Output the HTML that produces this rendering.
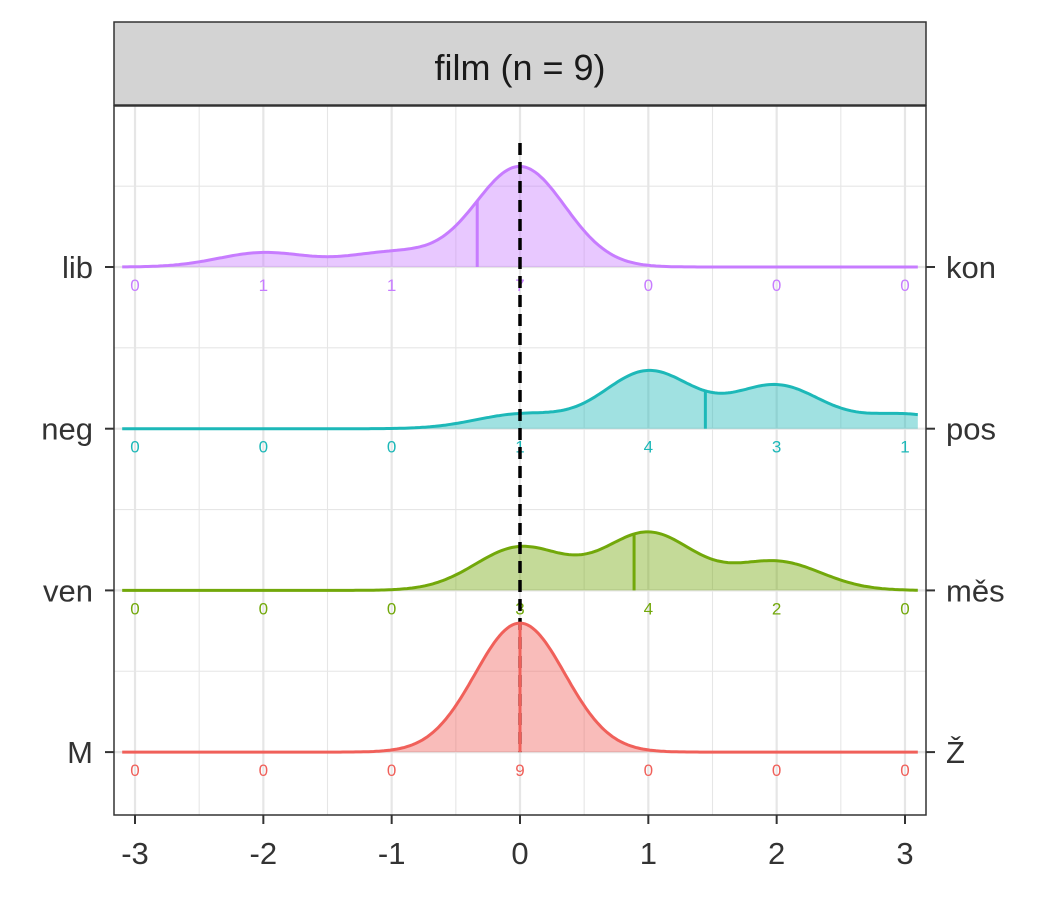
<!DOCTYPE html>
<html><head><meta charset="utf-8"><style>
html,body{margin:0;padding:0;background:#fff;}
svg text{font-family:"Liberation Sans",Arial,sans-serif;}
</style></head><body>
<svg id="chart" width="1050" height="900" xmlns="http://www.w3.org/2000/svg">
<rect x="0" y="0" width="1050" height="900" fill="#fff"/>
<g id="grid"></g>
<rect x="114" y="22" width="812" height="83" fill="#d3d3d3" stroke="#333" stroke-width="1.5"/>
<text x="520" y="80" font-size="36" text-anchor="middle" fill="#1a1a1a">film (n = 9)</text>
<g id="ridges"></g>
<rect x="114" y="106" width="812" height="709" fill="none" stroke="#333" stroke-width="1.5"/>
<g id="axes"></g>
</svg>
<script>
const xTicks = [-3,-2,-1,0,1,2,3];
const leftLabels = ["lib","neg","ven","M"];
const rightLabels = ["kon","pos","měs","Ž"];
const countsLib = [0,1,1,7,0,0,0];
const countsPos = [0,0,0,1,4,3,1];
const countsVen = [0,0,0,3,4,2,0];
const countsM = [0,0,0,9,0,0,0];
const colors = ["#C77CFF","#1DB8B8","#72A80A","#F0605A"];

const NS="http://www.w3.org/2000/svg";
const xs = v => 520 + v*128.33;
const baseY = i => 267 + i*161.7;
const sigma = 0.35, peakPx = 129;
function mk(tag, attrs, parent){const e=document.createElementNS(NS,tag);for(const k in attrs)e.setAttribute(k,attrs[k]);parent.appendChild(e);return e;}
const grid=document.getElementById('grid'), ridges=document.getElementById('ridges'), axes=document.getElementById('axes');
for(let v=-3;v<=3;v+=0.5){
  const l=mk('line',{x1:xs(v),x2:xs(v),y1:106,y2:815,stroke:'#e6e6e6','stroke-width':Number.isInteger(v)?2.2:1.1},grid);
  
  
}
for(let i=-0.5;i<=3.5;i+=0.5){
  const y=baseY(i); if(y<106||y>815) continue;
  const l=mk('line',{x1:114,x2:926,y1:y,y2:y,stroke:'#e6e6e6','stroke-width':Number.isInteger(i)?2.2:1.1},grid);
  
  
}
const series=[countsLib,countsPos,countsVen,countsM];
function dens(c,x){let n=0,s=0;c.forEach((k,j)=>{n+=k;s+=k*Math.exp(-Math.pow(x-xTicks[j],2)/(2*sigma*sigma));});return s/n;}
series.forEach((c,i)=>{
  const b=baseY(i), col=colors[i];
  if(i===3){
    const dl=mk('line',{x1:xs(0),x2:xs(0),y1:143,y2:baseY(3),stroke:'#000','stroke-width':3.5,'stroke-dasharray':'12,7'},ridges);
    
    
  }
  let pts=[];
  for(let x=-3.1;x<=3.1001;x+=0.02){pts.push([xs(x),b-peakPx*dens(c,x)]);}
  const d='M'+pts.map(p=>p[0].toFixed(1)+','+p[1].toFixed(1)).join('L');
  const f=mk('path',{d:d+`L${xs(3.1)},${b}L${xs(-3.1)},${b}Z`,fill:col,'fill-opacity':0.42,stroke:'none'},ridges);
  
  
  const ln=mk('path',{d:d,fill:'none',stroke:col,'stroke-width':3},ridges);
  
  
  let n=0,s=0;c.forEach((k,j)=>{n+=k;s+=k*xTicks[j];});const m=s/n;
  const ml=mk('line',{x1:xs(m),x2:xs(m),y1:b,y2:b-peakPx*dens(c,m),stroke:col,'stroke-width':3},ridges);
  
  
  c.forEach((k,j)=>{
    const t=mk('text',{x:xs(xTicks[j]),y:b+24,'font-size':17,'text-anchor':'middle',fill:col},ridges);
    t.textContent=k;
    
    
  });
});
xTicks.forEach(v=>{
  mk('line',{x1:xs(v),x2:xs(v),y1:815,y2:824,stroke:'#333','stroke-width':2},axes);
  const t=mk('text',{x:xs(v),y:864,'font-size':31,'text-anchor':'middle',fill:'#333'},axes);
  t.textContent=v;
  
  
});
leftLabels.forEach((lab,i)=>{
  const y=baseY(i);
  mk('line',{x1:105,x2:114,y1:y,y2:y,stroke:'#333','stroke-width':2},axes);
  mk('line',{x1:926,x2:935,y1:y,y2:y,stroke:'#333','stroke-width':2},axes);
  const t=mk('text',{x:93,y:y+11,'font-size':31,'text-anchor':'end',fill:'#333'},axes);
  t.textContent=lab;
  
  
  const r=mk('text',{x:946,y:y+11,'font-size':31,'text-anchor':'start',fill:'#333'},axes);
  r.textContent=rightLabels[i];
  
  
});
</script>
</body></html>
